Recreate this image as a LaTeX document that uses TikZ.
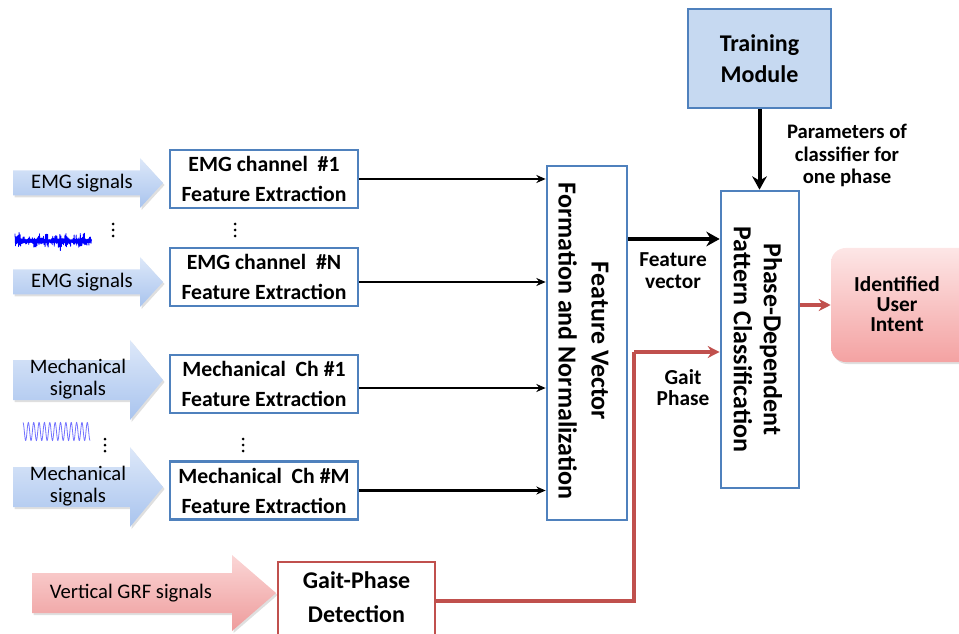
\documentclass[tikz,border=0pt]{standalone}
\usepackage{fontspec}
\setmainfont{Carlito}
\usetikzlibrary{arrows.meta,shadows,calc}

\definecolor{boxblue}{HTML}{4F81BD}
\definecolor{trainfill}{HTML}{C6D9F1}
\definecolor{redline}{HTML}{C0504D}
\definecolor{sigtop}{HTML}{DDE8F9}
\definecolor{sigbot}{HTML}{A9C4EE}
\definecolor{grftop}{HTML}{FBD6D6}
\definecolor{grfbot}{HTML}{EE9C9C}
\definecolor{intop}{HTML}{FDE6E6}
\definecolor{inbot}{HTML}{F4A2A2}

\tikzset{
  extract/.style={draw=boxblue, line width=2pt, fill=white,
    minimum width=141pt, minimum height=43.5pt, align=center, inner sep=0pt,
    font=\bfseries\fontsize{16.3}{22.5}\selectfont},
  tallbox/.style={draw=boxblue, line width=2pt, fill=white, inner sep=0pt},
  rottext/.style={rotate=-90, align=center, inner sep=0pt},
  lbl/.style={align=center, inner sep=0pt, font=\bfseries\fontsize{16}{16.5}\selectfont},
  sigtext/.style={align=center, inner sep=0pt, font=\fontsize{15.5}{17}\selectfont},
  sigarrow/.style={draw=none, top color=sigtop, bottom color=sigbot,
    drop shadow={opacity=0.25, shadow xshift=1.2pt, shadow yshift=-1.5pt}},
  grfarrow/.style={draw=none, top color=grftop, bottom color=grfbot,
    drop shadow={opacity=0.25, shadow xshift=1.2pt, shadow yshift=-1.5pt}},
  thinarr/.style={line width=1.6pt, -{Stealth[length=7pt,width=6pt]}},
  thickarr/.style={line width=3pt, -{Stealth[length=10pt,width=11pt]}},
  redarr/.style={draw=redline, line width=2.6pt, -{Stealth[length=9pt,width=9pt]}},
  dotfill/.style={fill=black, draw=none},
}

\newcommand{\vdotsat}[2]{%
  \fill[dotfill] (#1,#2-6) circle (1.5);
  \fill[dotfill] (#1,#2)   circle (1.5);
  \fill[dotfill] (#1,#2+6) circle (1.5);}

\begin{document}
\begin{tikzpicture}[x=0.75pt,y=-0.75pt]
\useasboundingbox (0,0) rectangle (959,634);

% ---- input arrows (signal sources) ----
\path[sigarrow] (13,170.5) -- (140,170.5) -- (140,158) -- (163,183) -- (140,208) -- (140,195.5) -- (13,195.5) -- cycle;
\path[sigarrow] (13,269.5) -- (140,269.5) -- (140,257) -- (163,282) -- (140,307) -- (140,294.5) -- (13,294.5) -- cycle;
\path[sigarrow] (13,360) -- (130,360) -- (130,340) -- (163,380) -- (130,420) -- (130,400) -- (13,400) -- cycle;
\path[sigarrow] (13,467) -- (130,467) -- (130,447) -- (163,487) -- (130,527) -- (130,507) -- (13,507) -- cycle;
\path[grfarrow] (32,573) -- (232,573) -- (232,555) -- (276,593) -- (232,631) -- (232,613) -- (32,613) -- cycle;

\node[sigtext] (s1) at (82,183) {EMG signals};
\node[sigtext] (s2) at (82,282) {EMG signals};
\node[sigtext] (s3) at (78,379) {Mechanical\\signals};
\node[sigtext] (s4) at (78,486) {Mechanical\\signals};
\node[sigtext] (s5) at (131,593) {Vertical GRF signals};

% ---- sample waveforms ----
\pgfmathsetseed{11}
\draw[blue, line width=0.6pt, line join=round]
  plot[samples at={0,...,150}] ({15+\x*0.51},{241+(2*mod(\x,2)-1)*(2+8*rnd^2)*(0.8+0.2*sin(\x*9))});
\draw[blue, line width=1.6pt] (16,241) -- (91,241);
\draw[blue!55, line width=0.6pt]
  plot[domain=23:90, samples=260, smooth] (\x,{431.5-9*cos(67.164*(\x-23))});

% ---- ellipsis marks ----
\vdotsat{113}{230}
\vdotsat{235}{230}
\vdotsat{105}{445}
\vdotsat{243}{445}

% ---- feature extraction blocks ----
\node[extract] (e1) at (264,179) {EMG channel \ \#1\\Feature Extraction};
\node[extract] (e2) at (264,277) {EMG channel \ \#N\\Feature Extraction};
\node[extract] (m1) at (264,384) {Mechanical \ Ch \#1\\Feature Extraction};
\node[extract] (m2) at (264,490.5) {Mechanical \ Ch \#M\\Feature Extraction};

% ---- feature vector block ----
\node[tallbox, minimum width=60pt, minimum height=265.5pt] (fv) at (587,343) {};
\node[rottext, font=\bfseries\fontsize{19.5}{24.75}\selectfont] (fvt) at (583.5,341)
  {Feature Vector\\Formation and Normalization};

% ---- classifier block ----
\node[tallbox, minimum width=58.5pt, minimum height=222.75pt] (cl) at (760,339.5) {};
\node[rottext, font=\bfseries\fontsize{19.5}{22.5}\selectfont] (clt) at (758,339.5)
  {Phase-Dependent\\Pattern Classification};

% ---- training module ----
\node[draw=boxblue, line width=2pt, fill=trainfill, minimum width=107.25pt,
  minimum height=74.25pt, align=center, inner sep=0pt,
  font=\bfseries\fontsize{18}{23}\selectfont] (tr) at (759.5,58.5) {Training\\Module};

% ---- identified user intent ----
\node[draw=none, rounded corners=11pt, top color=intop, bottom color=inbot,
  minimum width=108pt, minimum height=85.5pt,
  drop shadow={opacity=0.25, shadow xshift=1.2pt, shadow yshift=-1.5pt}] (ui) at (903,305) {};
\node[lbl, font=\bfseries\fontsize{16}{15}\selectfont] (uit) at (897,304) {Identified\\User\\Intent};

% ---- gait-phase detection ----
\node[draw=redline, line width=2pt, fill=white, minimum width=117.75pt,
  minimum height=58.5pt, inner sep=0pt] (gp) at (356.5,601) {};
\node[align=center, inner sep=0pt, font=\bfseries\fontsize{18}{25}\selectfont]
  (gpt) at (356.5,597) {Gait-Phase\\Detection};

% ---- connectors ----
\draw[thinarr] (e1.east) -- (e1.east -| fv.west);
\draw[thinarr] (e2.east |- 0,282) -- (fv.west |- 0,282);
\draw[thinarr] (m1.east |- 0,388) -- (fv.west |- 0,388);
\draw[thinarr] (m2.east) -- (m2.east -| fv.west);

\draw[thickarr] (fv.east |- 0,239) -- (cl.west |- 0,239);
\draw[thickarr] (tr.south) -- (tr.south |- cl.north);

\coordinate (bend1) at (634,601);
\coordinate (bend2) at (634,352);
\draw[redarr, -] (gp.east) -- (bend1) -- (bend2);
\draw[redarr] (bend2) -- (cl.west |- bend2);
\draw[redarr] (cl.east |- 0,305) -- (ui.west |- 0,305);

% ---- connector labels ----
\node[lbl] (lfv) at (673,271) {Feature\\vector};
\node[lbl, font=\bfseries\fontsize{16}{16}\selectfont] (lgp) at (683,387.5) {Gait\\Phase};
\node[lbl, font=\bfseries\fontsize{15.5}{17}\selectfont] (lpar) at (847,155.5) {Parameters of\\classifier for\\one phase};
\end{tikzpicture}
\end{document}
